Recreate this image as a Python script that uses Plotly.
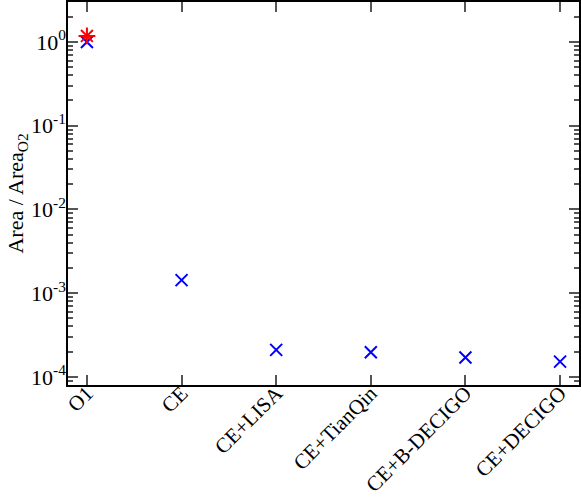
import plotly.graph_objects as go

categories = ["O1", "CE", "CE+LISA", "CE+TianQin", "CE+B-DECIGO", "CE+DECIGO"]
blue_values = [1.0, 1.43e-3, 2.1e-4, 1.97e-4, 1.7e-4, 1.52e-4]
red_categories = ["O1"]
red_values = [1.18]
ytick_vals = [1e-4, 1e-3, 1e-2, 1e-1, 1e0]
ytick_text = ["10<sup>-4</sup>", "10<sup>-3</sup>", "10<sup>-2</sup>", "10<sup>-1</sup>", "10<sup>0</sup>"]

xpos = list(range(len(categories)))
red_pos = [categories.index(c) for c in red_categories]

font_family = "Liberation Serif, Times New Roman, serif"

fig = go.Figure()
fig.add_trace(go.Scatter(
    x=xpos, y=blue_values, mode="markers",
    marker=dict(symbol="x-thin-open", size=12, color="blue",
                line=dict(color="blue", width=2)),
    showlegend=False))
fig.add_trace(go.Scatter(
    x=red_pos, y=red_values, mode="markers",
    marker=dict(symbol="asterisk-open", size=14, color="red",
                line=dict(color="red", width=2)),
    showlegend=False))

fig.update_layout(
    width=581, height=497,
    margin=dict(l=68, r=2, t=2, b=112),
    paper_bgcolor="white", plot_bgcolor="white",
    font=dict(family=font_family, color="black", size=20),
)
fig.update_xaxes(
    range=[-0.2, 5.2], tickvals=xpos, ticktext=categories, tickangle=-45,
    showgrid=False, zeroline=False, automargin=False,
    showline=True, linecolor="black", linewidth=1.5, mirror="ticks",
    ticks="inside", ticklen=10, tickwidth=1.5, tickcolor="#555555",
    tickfont=dict(family=font_family, size=21, color="black"),
    ticklabelstandoff=-14,
)
fig.update_yaxes(
    type="log", range=[-4.097, 0.477],
    tickvals=ytick_vals, ticktext=ytick_text,
    showgrid=False, zeroline=False, automargin=False,
    showline=True, linecolor="black", linewidth=1.5, mirror="ticks",
    ticks="inside", ticklen=10, tickwidth=1.5, tickcolor="#555555",
    tickfont=dict(family=font_family, size=22, color="black"),
    ticklabelstandoff=-4,
    minor=dict(ticks="inside", ticklen=5, tickwidth=1.5, tickcolor="#555555", dtick="D1"),
    title=dict(text="Area / Area<sub>O2</sub>", font=dict(family=font_family, size=22, color="black"), standoff=0),
)
fig.write_html("out.html", config={"displayModeBar": False},
               post_script="document.body.style.margin='0';")
